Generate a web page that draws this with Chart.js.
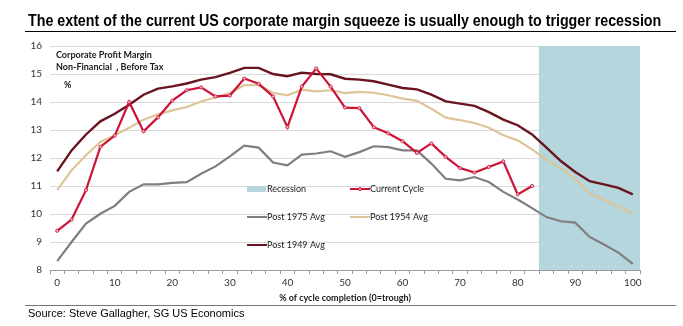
<!DOCTYPE html>
<html><head><meta charset="utf-8">
<script src="https://cdn.jsdelivr.net/npm/chart.js@4.4.1/dist/chart.umd.min.js"></script>
<style>
html,body{margin:0;padding:0;background:#fff;width:683px;height:326px;overflow:hidden;}
#wrap{position:relative;width:683px;height:326px;}
#c{position:absolute;left:0;top:0;}
#title{position:absolute;left:28px;top:12px;font:bold 16px "Liberation Sans",Arial,sans-serif;white-space:nowrap;transform-origin:0 0;color:#000;}
#tline{position:absolute;left:25px;top:31px;width:651px;height:1px;background:#000;}
#sline{position:absolute;left:25px;top:305px;width:651px;height:1px;background:#777;}
#source{position:absolute;left:28px;top:307px;font:11px "Liberation Sans",Arial,sans-serif;color:#000;white-space:nowrap;}
</style></head>
<body><div id="wrap">
<canvas id="c" width="683" height="326"></canvas>
<div id="title">The extent of the current US corporate margin squeeze is usually enough to trigger recession</div>
<div id="tline"></div>
<div id="sline"></div>
<div id="source">Source: Steve Gallagher, SG US Economics</div>
</div>
<script>
// ---- data ----
const categories = [0,2.5,5,7.5,10,12.5,15,17.5,20,22.5,25,27.5,30,32.5,35,37.5,40,42.5,45,47.5,50,52.5,55,57.5,60,62.5,65,67.5,70,72.5,75,77.5,80,82.5,85,87.5,90,92.5,95,97.5,100];
const tickLabels = ['0','10','20','30','40','50','60','70','80','90','100'];
const currentCycle = [9.4,9.8,10.85,12.4,12.8,14.0,12.95,13.45,14.05,14.42,14.52,14.2,14.23,14.84,14.65,14.2,13.1,14.55,15.2,14.55,13.8,13.78,13.1,12.88,12.6,12.18,12.52,12.04,11.64,11.48,11.68,11.88,10.7,11.0,null,null,null,null,null,null,null];
const post1949 = [11.52,12.27,12.84,13.31,13.58,13.9,14.26,14.48,14.56,14.66,14.8,14.89,15.04,15.22,15.22,15.0,14.92,15.05,15.0,14.99,14.83,14.8,14.74,14.62,14.5,14.45,14.26,14.02,13.94,13.86,13.64,13.37,13.17,12.84,12.37,11.89,11.5,11.17,11.06,10.93,10.7];
const post1954 = [10.85,11.56,12.1,12.57,12.81,13.08,13.37,13.56,13.7,13.82,14.02,14.16,14.32,14.6,14.6,14.33,14.24,14.44,14.38,14.42,14.32,14.36,14.33,14.24,14.12,14.04,13.76,13.44,13.35,13.25,13.08,12.81,12.63,12.31,11.94,11.64,11.26,10.73,10.49,10.29,10.01];
const post1975 = [8.32,9.0,9.66,10.01,10.29,10.79,11.06,11.06,11.11,11.14,11.44,11.7,12.06,12.44,12.37,11.84,11.74,12.12,12.16,12.24,12.04,12.21,12.42,12.39,12.27,12.27,11.8,11.26,11.2,11.32,11.14,10.79,10.52,10.21,9.89,9.74,9.69,9.18,8.91,8.62,8.22];
const recessionStart = 85;
const yMin = 8, yMax = 16;

// ---- title fit ----
const t = document.getElementById('title');
t.style.transform = 'scaleX(' + (633 / t.offsetWidth) + ')';

const FONT = 'Lato, "Open Sans", sans-serif';
const C_RED = '#cc1236', C_MAROON = '#6a1420', C_TAN = '#dcc598', C_GRAY = '#7f7f7f', C_REC = '#b5d6dd';

const recession = categories.map(c => c >= recessionStart ? [yMin, yMax] : null);

const overlay = {
  id: 'overlay',
  afterDatasetsDraw(chart) {
    const ctx = chart.ctx;
    ctx.save();
    ctx.textBaseline = 'middle';
    ctx.textAlign = 'left';
    ctx.fillStyle = '#1a1a1a';
    ctx.font = 'bold 9px ' + FONT;
    ctx.fillText('Corporate Profit Margin', 56, 55);
    ctx.fillText('Non-Financial  , Before Tax', 56, 67);
    ctx.fillText('%', 64, 85);
    // legend
    const ds = chart.data.datasets;
    const pos = [[247,189],[350,189],[247,217],[350,217],[247,245]];
    const ord = [4,0,3,2,1];
    ctx.font = '9px ' + FONT;
    ord.forEach((di, k) => {
      const d = ds[di];
      const [x, y] = pos[k];
      if (d.type === 'bar') {
        ctx.fillStyle = d.backgroundColor;
        ctx.fillRect(x, y - 3, 19, 6);
      } else {
        ctx.strokeStyle = d.borderColor;
        ctx.lineWidth = 2;
        ctx.beginPath(); ctx.moveTo(x, y); ctx.lineTo(x + 20, y); ctx.stroke();
        if (d.pointRadius > 0) {
          ctx.fillStyle = d.pointBackgroundColor;
          ctx.lineWidth = 1;
          ctx.beginPath(); ctx.arc(x + 10, y, 1.5, 0, Math.PI * 2); ctx.fill(); ctx.stroke();
        }
      }
      ctx.fillStyle = '#1a1a1a';
      ctx.fillText(d.label, x + 20, y);
    });
    ctx.restore();
  }
};

new Chart(document.getElementById('c'), {
  type: 'line',
  data: {
    labels: categories,
    datasets: [
      {label: 'Current Cycle', data: currentCycle, borderColor: C_RED, borderWidth: 2.2, pointRadius: 1.6, pointBackgroundColor: '#f0b3c0', pointBorderColor: C_RED, pointBorderWidth: 0.8, tension: 0, order: 0, spanGaps: false},
      {label: 'Post 1949 Avg', data: post1949, borderColor: C_MAROON, borderWidth: 2.4, pointRadius: 0, tension: 0, order: 2},
      {label: 'Post 1954 Avg', data: post1954, borderColor: C_TAN, borderWidth: 2.2, pointRadius: 0, tension: 0, order: 3},
      {label: 'Post 1975 Avg', data: post1975, borderColor: C_GRAY, borderWidth: 2.2, pointRadius: 0, tension: 0, order: 4},
      {type: 'bar', label: 'Recession', data: recession, backgroundColor: C_REC, barPercentage: 1, categoryPercentage: 1, order: 10, borderWidth: 0}
    ]
  },
  options: {
    responsive: false,
    animation: false,
    events: [],
    layout: {padding: {left: 0, right: 43, top: 46, bottom: 20}},
    plugins: {legend: {display: false}, tooltip: {enabled: false}},
    scales: {
      x: {
        type: 'category',
        offset: true,
        grid: {offset: true, drawOnChartArea: false, drawTicks: true, tickLength: 4, color: '#9a9a9a'},
        border: {color: '#9a9a9a'},
        ticks: {autoSkip: false, maxRotation: 0, padding: 3, color: '#333', font: {family: FONT, size: 10},
          callback: (v, i) => (i % 4 === 0 ? tickLabels[i / 4] : '')},
        title: {display: true, text: '% of cycle completion (0=trough)', color: '#1a1a1a', font: {family: FONT, size: 9, weight: 'bold'}, padding: {top: 0, bottom: 3}},
        afterFit: s => { s.height = 36; }
      },
      y: {
        min: yMin, max: yMax,
        grid: {color: '#d9d9d9', drawTicks: false},
        border: {display: false},
        ticks: {stepSize: 1, padding: 8, color: '#333', font: {family: FONT, size: 10}},
        afterFit: s => { s.width = 50; }
      }
    }
  },
  plugins: [overlay]
});
</script>
</body></html>
